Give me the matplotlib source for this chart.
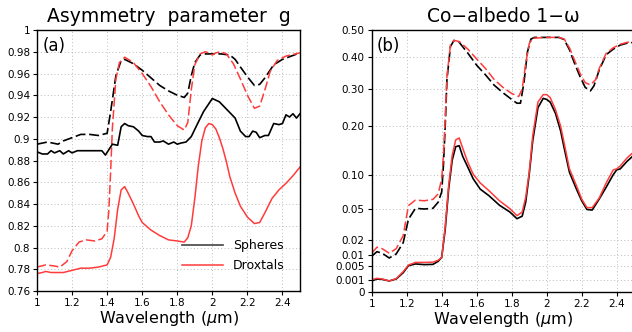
import numpy as np
import matplotlib
matplotlib.use("Agg")
import matplotlib.pyplot as plt

# ---------------- data: panel (a) asymmetry parameter ----------------
x_a_sd = [1.0,1.03,1.06,1.09,1.12,1.15,1.2,1.25,1.3,1.35,1.4,1.42,1.45,1.48,1.5,1.55,1.6,1.65,1.7,1.75,1.8,1.84,1.86,1.88,1.9,1.93,1.96,2.0,2.05,2.1,2.13,2.16,2.2,2.24,2.27,2.3,2.35,2.4,2.45,2.5]
g_sph_dash = [0.895,0.896,0.897,0.896,0.895,0.898,0.901,0.904,0.904,0.903,0.905,0.925,0.958,0.972,0.973,0.969,0.963,0.956,0.949,0.944,0.940,0.938,0.942,0.958,0.970,0.977,0.978,0.978,0.978,0.977,0.973,0.966,0.957,0.949,0.950,0.956,0.968,0.973,0.976,0.979]

x_a_dd = [1.0,1.05,1.1,1.13,1.17,1.2,1.24,1.28,1.33,1.37,1.40,1.41,1.42,1.43,1.45,1.47,1.5,1.55,1.6,1.65,1.7,1.75,1.8,1.84,1.86,1.88,1.9,1.93,1.96,1.98,2.0,2.02,2.05,2.08,2.12,2.16,2.2,2.24,2.27,2.3,2.33,2.37,2.42,2.5]
g_drx_dash = [0.782,0.784,0.783,0.782,0.787,0.797,0.805,0.807,0.806,0.808,0.815,0.835,0.87,0.91,0.955,0.970,0.975,0.970,0.960,0.948,0.934,0.922,0.912,0.908,0.915,0.945,0.968,0.978,0.980,0.979,0.977,0.979,0.980,0.978,0.969,0.955,0.94,0.928,0.930,0.945,0.962,0.972,0.976,0.979]

x_a_s = [1.0,1.03,1.06,1.08,1.1,1.13,1.15,1.18,1.2,1.23,1.26,1.3,1.34,1.37,1.39,1.41,1.43,1.46,1.48,1.5,1.52,1.55,1.58,1.6,1.63,1.65,1.67,1.7,1.72,1.75,1.78,1.8,1.82,1.85,1.88,1.91,1.95,2.0,2.04,2.07,2.1,2.13,2.16,2.19,2.21,2.23,2.25,2.27,2.3,2.32,2.35,2.38,2.40,2.42,2.44,2.46,2.48,2.5]
g_sph = [0.888,0.886,0.886,0.889,0.887,0.889,0.886,0.889,0.887,0.889,0.889,0.889,0.889,0.889,0.885,0.890,0.895,0.894,0.911,0.914,0.912,0.911,0.907,0.903,0.902,0.902,0.897,0.897,0.898,0.895,0.897,0.895,0.896,0.897,0.902,0.912,0.925,0.937,0.934,0.929,0.924,0.919,0.907,0.902,0.902,0.907,0.906,0.901,0.903,0.903,0.914,0.913,0.914,0.922,0.920,0.923,0.919,0.923]

x_a_d = [1.0,1.03,1.05,1.08,1.1,1.15,1.2,1.25,1.3,1.35,1.4,1.42,1.44,1.46,1.48,1.5,1.52,1.55,1.58,1.6,1.65,1.7,1.75,1.8,1.84,1.86,1.88,1.9,1.92,1.94,1.96,1.98,2.0,2.02,2.04,2.06,2.08,2.1,2.13,2.16,2.2,2.24,2.27,2.3,2.34,2.38,2.42,2.46,2.5]
g_drx = [0.776,0.777,0.778,0.777,0.777,0.777,0.779,0.781,0.781,0.782,0.784,0.791,0.808,0.835,0.853,0.856,0.850,0.840,0.829,0.823,0.816,0.811,0.807,0.806,0.805,0.809,0.820,0.845,0.875,0.898,0.910,0.914,0.913,0.909,0.901,0.891,0.879,0.865,0.850,0.838,0.828,0.822,0.823,0.832,0.845,0.853,0.859,0.866,0.874]

# ---------------- data: panel (b) co-albedo ----------------
x_b_sd = [1.0,1.03,1.06,1.1,1.14,1.18,1.21,1.25,1.3,1.35,1.38,1.40,1.41,1.42,1.43,1.45,1.47,1.5,1.55,1.6,1.65,1.7,1.75,1.8,1.83,1.85,1.87,1.89,1.91,1.93,2.0,2.07,2.1,2.13,2.16,2.19,2.22,2.25,2.27,2.3,2.34,2.38,2.42,2.46,2.5]
w_sph_dash = [0.0093,0.012,0.011,0.0085,0.0105,0.018,0.04,0.051,0.050,0.051,0.060,0.075,0.12,0.2,0.33,0.44,0.462,0.455,0.415,0.375,0.345,0.312,0.29,0.272,0.262,0.262,0.32,0.42,0.467,0.473,0.473,0.473,0.465,0.428,0.38,0.34,0.305,0.295,0.31,0.36,0.41,0.43,0.445,0.452,0.455]

x_b_dd = [1.0,1.03,1.06,1.1,1.14,1.18,1.21,1.25,1.3,1.35,1.38,1.40,1.41,1.42,1.43,1.45,1.47,1.5,1.55,1.6,1.65,1.7,1.75,1.8,1.84,1.86,1.88,1.90,1.92,2.0,2.07,2.1,2.13,2.16,2.19,2.22,2.25,2.28,2.3,2.34,2.38,2.42,2.46,2.5]
w_drx_dash = [0.011,0.015,0.014,0.011,0.014,0.024,0.055,0.063,0.062,0.064,0.072,0.094,0.14,0.22,0.34,0.445,0.462,0.458,0.43,0.395,0.365,0.33,0.305,0.288,0.28,0.30,0.38,0.45,0.47,0.473,0.473,0.467,0.435,0.39,0.35,0.32,0.313,0.33,0.365,0.415,0.435,0.448,0.455,0.458]

x_b_s = [1.0,1.03,1.06,1.1,1.14,1.18,1.21,1.25,1.3,1.35,1.38,1.40,1.42,1.44,1.46,1.48,1.5,1.52,1.55,1.58,1.62,1.67,1.73,1.79,1.83,1.86,1.88,1.90,1.92,1.95,1.98,2.0,2.02,2.05,2.08,2.1,2.13,2.17,2.2,2.23,2.26,2.3,2.34,2.38,2.4,2.42,2.46,2.5]
w_sph = [0.0009,0.0012,0.0011,0.0009,0.0012,0.003,0.005,0.0058,0.0055,0.0056,0.007,0.0088,0.03,0.08,0.13,0.158,0.16,0.138,0.115,0.094,0.079,0.0694,0.0555,0.047,0.0405,0.043,0.06,0.1,0.17,0.25,0.275,0.272,0.265,0.235,0.19,0.155,0.105,0.079,0.062,0.0495,0.049,0.0645,0.0818,0.1,0.11,0.112,0.128,0.141]
w_drx = [0.001,0.0014,0.0012,0.0009,0.0013,0.0033,0.0053,0.0065,0.0065,0.0066,0.0075,0.0087,0.033,0.085,0.14,0.172,0.176,0.155,0.125,0.101,0.088,0.0767,0.062,0.0504,0.0435,0.047,0.067,0.105,0.18,0.265,0.285,0.285,0.277,0.245,0.2,0.165,0.112,0.084,0.0645,0.052,0.052,0.066,0.088,0.11,0.112,0.118,0.135,0.148]

# tick labels
xticks = [1, 1.2, 1.4, 1.6, 1.8, 2, 2.2, 2.4]
xticklabels = ["1", "1.2", "1.4", "1.6", "1.8", "2", "2.2", "2.4"]
yticks_a = [0.76, 0.78, 0.8, 0.82, 0.84, 0.86, 0.88, 0.9, 0.92, 0.94, 0.96, 0.98, 1.0]
yticklabels_a = ["0.76", "0.78", "0.8", "0.82", "0.84", "0.86", "0.88", "0.9", "0.92", "0.94", "0.96", "0.98", "1"]
yticks_b = [0, 0.001, 0.005, 0.01, 0.02, 0.05, 0.1, 0.2, 0.3, 0.4, 0.5]
yticklabels_b = ["0", "0.001", "0.005", "0.01", "0.02", "0.05", "0.10", "0.20", "0.30", "0.40", "0.50"]

# stretched axis of panel (b): relative position of each tick
_b_pos = [0, 0.0469, 0.1004, 0.1424, 0.1996, 0.3168, 0.4477, 0.6321, 0.7748, 0.8954, 1.0]
def _fwd(v):
    return np.interp(v, yticks_b, _b_pos)
def _inv(p):
    return np.interp(p, _b_pos, yticks_b)

RED = "#ff3b3b"
DASH = (0, (6, 2.2))

plt.rcParams['font.family'] = ['DejaVu Sans']
fig = plt.figure(figsize=(6.32, 3.32), dpi=100)
ax1 = fig.add_axes([37/632, 1-291/332, 263/632, 261/332])
ax2 = fig.add_axes([371.7/632, 1-292/332, 262.5/632, 262/332])

ax1.plot(x_a_sd, g_sph_dash, color="black", lw=1.2, ls=DASH)
ax1.plot(x_a_dd, g_drx_dash, color=RED, lw=1.1, ls=DASH)
l1, = ax1.plot(x_a_s, g_sph, color="black", lw=1.2)
l2, = ax1.plot(x_a_d, g_drx, color=RED, lw=1.1)
ax1.set_ylim(0.76, 1.0)
ax1.set_yticks(yticks_a)
ax1.set_yticklabels(yticklabels_a)
leg = ax1.legend([l1, l2], ["Spheres", "Droxtals"], loc="lower right",
                 bbox_to_anchor=(0.985, 0.03), frameon=False, fontsize=9,
                 handlelength=3.3, handletextpad=0.8, labelspacing=0.55)
leg.get_lines()[0].set_color("#444444")

ax2.set_yscale('function', functions=(_fwd, _inv))
ax2.plot(x_b_sd, w_sph_dash, color="black", lw=1.2, ls=DASH)
ax2.plot(x_b_dd, w_drx_dash, color=RED, lw=1.1, ls=DASH)
ax2.plot(x_b_s, w_sph, color="black", lw=1.2)
ax2.plot(x_b_s, w_drx, color=RED, lw=1.1)
ax2.set_ylim(0, 0.5)
ax2.set_yticks(yticks_b)
ax2.set_yticklabels(yticklabels_b)
ax2.minorticks_off()

for ax in (ax1, ax2):
    ax.set_xlim(1, 2.5)
    ax.set_xticks(xticks)
    ax.set_xticklabels(xticklabels)
    ax.grid(True, color="#bbbbbb", ls=(0, (1, 2.5)), lw=0.7)
    ax.tick_params(labelsize=7.5, length=3, width=0.8, direction="out", pad=2)
    for s in ax.spines.values():
        s.set_linewidth(1.0)
    ax.set_xlabel(r"Wavelength ($\mu$m)", fontsize=11.5, labelpad=1)

ax1.text(0.02, 0.975, "(a)", transform=ax1.transAxes, fontsize=12, va="top", ha="left")
ax2.text(0.02, 0.975, "(b)", transform=ax2.transAxes, fontsize=12, va="top", ha="left")
ax1.set_title("Asymmetry  parameter  g", fontsize=13.5, pad=6)
ax2.set_title("Co\u2212albedo 1\u2212\u03c9", fontsize=13.5, pad=6)

fig.savefig("out.png", dpi=100)
